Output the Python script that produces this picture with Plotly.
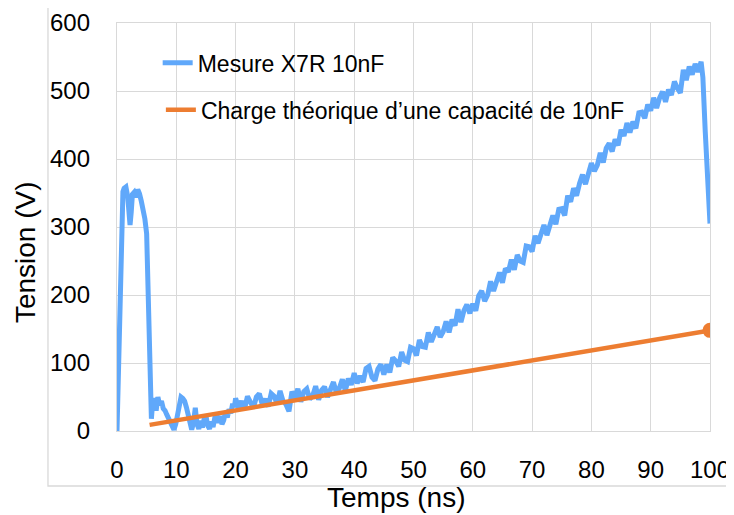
import plotly.graph_objects as go

# Mesure X7R 10nF — pulse at the start (ns, V)
t_pulse = [0, 0.2, 0.4, 0.6, 0.8, 1.0, 1.2, 1.5, 1.8, 2.0, 2.2, 2.4, 2.6, 2.9,
           3.2, 3.5, 3.8, 4.1, 4.4, 4.7, 5.0, 5.2, 5.4, 5.6, 5.8]
v_pulse = [0, 80, 170, 250, 320, 352, 357, 359, 345, 318, 303, 322, 348, 351,
           344, 355, 349, 338, 328, 312, 290, 222, 130, 55, 18]

# ringing near zero after the pulse
t_settle = [6.0, 6.3, 6.6, 6.9, 7.2, 7.5, 7.8, 8.1, 8.4, 8.7, 9.0, 9.3, 9.6, 9.9,
            10.2, 10.5, 10.8, 11.1, 11.4, 11.7, 12.0, 12.3, 12.6, 12.9, 13.2, 13.5,
            13.8, 14.1, 14.4, 14.7, 15.0, 15.3, 15.6, 15.9, 16.2, 16.5, 16.8, 17.1,
            17.4, 17.7, 18.0, 18.3, 18.6, 18.9, 19.2, 19.5, 19.8]
v_settle = [40, 48, 30, 50, 38, 44, 33, 30, 24, 18, 12, 5, 2, 10,
            22, 42, 50, 48, 44, 35, 22, 10, 2, 12, 34, 10,
            3, 15, 5, 18, 22, 8, 3, 14, 6, 20, 26, 12,
            22, 10, 16, 28, 20, 32, 26, 40, 35]

# noisy ramp
t_ramp = [20.0, 20.5, 21.0, 21.5, 22.0, 22.5, 23.0, 23.5, 24.0, 24.5,
          25.0, 25.5, 26.0, 26.5, 27.0, 27.5, 28.0, 28.5, 29.0, 29.5,
          30.0, 30.5, 31.0, 31.5, 32.0, 32.5, 33.0, 33.5, 34.0, 34.5,
          35.0, 35.5, 36.0, 36.5, 37.0, 37.5, 38.0, 38.5, 39.0, 39.5,
          40.0, 40.5, 41.0, 41.5, 42.0, 42.5, 43.0, 43.5, 44.0, 44.5,
          45.0, 45.5, 46.0, 46.5, 47.0, 47.5, 48.0, 48.5, 49.0, 49.5,
          50.0, 50.5, 51.0, 51.5, 52.0, 52.5, 53.0, 53.5, 54.0, 54.5,
          55.0, 55.5, 56.0, 56.5, 57.0, 57.5, 58.0, 58.5, 59.0, 59.5,
          60.0, 60.5, 61.0, 61.5, 62.0, 62.5, 63.0, 63.5, 64.0, 64.5,
          65.0, 65.5, 66.0, 66.5, 67.0, 67.5, 68.0, 68.5, 69.0, 69.5,
          70.0, 70.5, 71.0, 71.5, 72.0, 72.5, 73.0, 73.5, 74.0, 74.5,
          75.0, 75.5, 76.0, 76.5, 77.0, 77.5, 78.0, 78.5, 79.0, 79.5,
          80.0, 80.5, 81.0, 81.5, 82.0, 82.5, 83.0, 83.5, 84.0, 84.5,
          85.0, 85.5, 86.0, 86.5, 87.0, 87.5, 88.0, 88.5, 89.0, 89.5,
          90.0, 90.5, 91.0, 91.5, 92.0, 92.5, 93.0, 93.5, 94.0, 94.5,
          95.0, 95.5, 96.0, 96.5, 97.0, 97.5, 98.0, 98.5]
v_ramp = [48, 34, 44, 32, 51, 41, 34, 50, 55, 39,
          47, 36, 55, 51, 40, 59, 44, 39, 29, 58,
          48, 62, 43, 58, 62, 47, 52, 66, 46, 60,
          65, 50, 63, 72, 56, 63, 76, 59, 77, 68,
          85, 70, 81, 72, 92, 95, 79, 74, 91, 98,
          83, 98, 86, 108, 103, 95, 116, 104, 102, 123,
          121, 111, 134, 124, 123, 145, 131, 145, 153, 138,
          146, 161, 145, 164, 155, 179, 160, 177, 186, 173,
          187, 177, 199, 206, 191, 200, 220, 206, 222, 233,
          218, 239, 234, 252, 237, 259, 250, 248, 272, 271,
          264, 287, 276, 291, 303, 288, 300, 317, 304, 326,
          327, 317, 346, 337, 357, 346, 364, 377, 363, 376,
          394, 382, 391, 409, 395, 416, 423, 411, 429, 420,
          443, 434, 453, 439, 455, 445, 468, 469, 460, 480,
          471, 490, 475, 490, 499, 484, 502, 494, 514, 504,
          497, 531, 516, 536, 524, 540, 528, 543]

# fall at the end
t_fall = [98.8, 99.2, 99.6, 100.0]
v_fall = [520, 440, 360, 305]

# Charge théorique d'une capacité de 10nF
t_theo = [5.5, 100]
v_theo = [9, 148]

t_meas = t_pulse + t_settle + t_ramp + t_fall
v_meas = v_pulse + v_settle + v_ramp + v_fall

BLUE = "#60A8FA"
ORANGE = "#ED7D31"
GRID = "#D9D9D9"
FONT = "Liberation Sans"

fig = go.Figure()
fig.add_trace(go.Scatter(
    x=t_meas, y=v_meas, mode="lines", name="Mesure X7R 10nF",
    line=dict(color=BLUE, width=5), legend="legend",
))
fig.add_trace(go.Scatter(
    x=t_theo, y=v_theo, mode="lines", name="Charge théorique d’une capacité de 10nF",
    line=dict(color=ORANGE, width=4.5), legend="legend2",
))
fig.add_trace(go.Scatter(
    x=t_theo[-1:], y=v_theo[-1:], mode="markers", showlegend=False,
    marker=dict(color=ORANGE, size=15),
))

# chart frame
fig.add_shape(type="rect", xref="paper", yref="paper",
              x0=-0.1164, x1=1.039, y0=-0.1348, y1=1.0392,
              line=dict(color=GRID, width=1.3), layer="below")

fig.add_annotation(text="Temps (ns)", xref="paper", yref="paper",
                   x=0.4705, y=-0.1618, xanchor="center", yanchor="middle",
                   showarrow=False, font=dict(family=FONT, size=28, color="black"))
fig.add_annotation(text="Tension (V)", xref="paper", yref="paper",
                   x=-0.155, y=0.4387, xanchor="center", yanchor="middle",
                   showarrow=False, textangle=-90,
                   font=dict(family=FONT, size=28, color="black"))

axis = dict(showgrid=True, gridcolor=GRID, gridwidth=1.3, zeroline=False,
            showline=True, linecolor=GRID, linewidth=1.3, mirror=True,
            automargin=False, ticks="",
            tickfont=dict(family=FONT, size=24, color="black"))
fig.update_xaxes(**axis, range=[0, 100], dtick=10, tick0=0, ticklabelstandoff=17)
fig.update_yaxes(**axis, range=[0, 600], dtick=100, tick0=0, ticklabelstandoff=21)

# the page adds an 8 px body margin, so the figure is 8 px smaller each way
fig.update_layout(
    width=726, height=507,
    margin=dict(l=109, r=24, t=15, b=84, autoexpand=False),
    paper_bgcolor="white", plot_bgcolor="white",
    font=dict(family=FONT, color="black"),
    showlegend=True,
    legend=dict(x=0.0686, y=0.955, xanchor="left", yanchor="top",
                bgcolor="rgba(0,0,0,0)", font=dict(family=FONT, size=23, color="black")),
    legend2=dict(x=0.074, y=0.84, xanchor="left", yanchor="top",
                 bgcolor="rgba(0,0,0,0)", font=dict(family=FONT, size=23, color="black")),
)

fig.write_html("out.html")
